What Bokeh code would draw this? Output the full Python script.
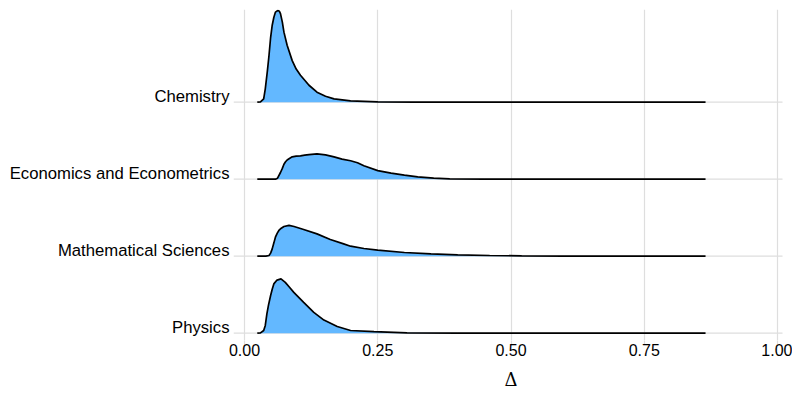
from bokeh.plotting import figure
from bokeh.models import FixedTicker, Range1d
from bokeh.embed import file_html
from bokeh.resources import INLINE

# ---- data ----
categories = ["Physics", "Mathematical Sciences", "Economics and Econometrics", "Chemistry"]

chem_x = [0.024, 0.030, 0.036, 0.039, 0.043, 0.046, 0.049, 0.052, 0.055, 0.058, 0.0625, 0.0655,
          0.0675, 0.071, 0.074, 0.080, 0.0895, 0.097, 0.105, 0.121, 0.136, 0.152, 0.168, 0.199,
          0.25, 0.32, 0.865]
chem_h = [0.0, 0.004, 0.043, 0.174, 0.41, 0.61, 0.84, 1.0, 1.10, 1.17, 1.19, 1.18,
          1.15, 1.04, 0.91, 0.74, 0.54, 0.43, 0.35, 0.22, 0.13, 0.078, 0.043, 0.017,
          0.005, 0.001, 0.0]

econ_x = [0.024, 0.058, 0.062, 0.0675, 0.071, 0.074, 0.077, 0.080, 0.085, 0.0895, 0.097, 0.105,
          0.113, 0.121, 0.136, 0.152, 0.168, 0.183, 0.199, 0.212, 0.224, 0.25, 0.275, 0.30,
          0.325, 0.355, 0.385, 0.45, 0.865]
econ_h = [0.0, 0.0, 0.013, 0.087, 0.14, 0.195, 0.227, 0.25, 0.273, 0.29, 0.30, 0.303,
          0.312, 0.32, 0.33, 0.316, 0.29, 0.26, 0.24, 0.214, 0.175, 0.112, 0.078, 0.052,
          0.03, 0.013, 0.004, 0.001, 0.0]

math_x = [0.024, 0.040, 0.046, 0.049, 0.052, 0.055, 0.058, 0.0615, 0.0645, 0.069, 0.074, 0.0835,
          0.093, 0.111, 0.136, 0.161, 0.186, 0.199, 0.224, 0.25, 0.30, 0.35, 0.40, 0.46,
          0.52, 0.60, 0.865]
math_h = [0.0, 0.001, 0.009, 0.04, 0.095, 0.17, 0.247, 0.30, 0.334, 0.364, 0.386, 0.40,
          0.386, 0.347, 0.29, 0.217, 0.16, 0.13, 0.10, 0.078, 0.048, 0.03, 0.017, 0.009,
          0.004, 0.001, 0.0]

phys_x = [0.024, 0.030, 0.036, 0.039, 0.042, 0.045, 0.049, 0.052, 0.055, 0.061, 0.0685, 0.0765,
          0.084, 0.0925, 0.111, 0.130, 0.149, 0.174, 0.199, 0.243, 0.305, 0.40, 0.865]
phys_h = [0.0, 0.004, 0.035, 0.10, 0.25, 0.364, 0.49, 0.57, 0.64, 0.69, 0.705, 0.66,
          0.60, 0.53, 0.40, 0.27, 0.17, 0.087, 0.035, 0.02, 0.005, 0.001, 0.0]

series_x = [phys_x, math_x, econ_x, chem_x]
series_h = [phys_h, math_h, econ_h, chem_h]

x_ticks = [0.0, 0.25, 0.5, 0.75, 1.0]
x_tick_labels = ["0.00", "0.25", "0.50", "0.75", "1.00"]
x_axis_title = "\u0394"

# ---- style ----
FILL = "#63B8FF"
GRID = "#dedede"
LABEL_OFFSET = 0.08
X0, X1 = -0.02064, 1.02064
BASE_END = 1.0094

p = figure(width=792, height=392, output_backend="svg", toolbar_location=None,
           x_range=Range1d(X0, X1), y_range=Range1d(0.905, 5.204),
           min_border_left=233, min_border_right=4, min_border_top=9, min_border_bottom=52)
p.outline_line_color = None
p.background_fill_color = "white"
p.border_fill_color = "white"

# grids
p.ygrid.visible = False
p.xgrid.ticker = FixedTicker(ticks=x_ticks)
p.xgrid.grid_line_color = GRID
p.xgrid.grid_line_width = 1.2

# baselines (category grid lines)
baselines = [i + 1 for i in range(len(categories))]
p.segment(x0=[X0] * len(baselines), y0=baselines, x1=[BASE_END] * len(baselines), y1=baselines,
          line_color=GRID, line_width=1.2)

# ridges, from top to bottom so lower ridges are in front
for i in reversed(range(len(categories))):
    b = baselines[i]
    xs = series_x[i]
    ys = [b + h for h in series_h[i]]
    p.patch(xs, ys, fill_color=FILL, line_color=None)
    p.line(xs, ys, line_color="black", line_width=1.7)

# x axis
p.xaxis.ticker = FixedTicker(ticks=x_ticks)
p.xaxis.major_label_overrides = {t: l for t, l in zip(x_ticks, x_tick_labels)}
p.xaxis.axis_line_color = None
p.xaxis.major_tick_line_color = GRID
p.xaxis.major_tick_line_width = 1.2
p.xaxis.major_tick_out = 4
p.xaxis.major_tick_in = 0
p.xaxis.minor_tick_line_color = None
p.xaxis.major_label_text_font = "Liberation Sans"
p.xaxis.major_label_text_font_size = "16px"
p.xaxis.major_label_text_color = "black"
p.xaxis.major_label_standoff = -1
p.xaxis.axis_label = x_axis_title
p.xaxis.axis_label_text_font = "DejaVu Serif"
p.xaxis.axis_label_text_font_style = "normal"
p.xaxis.axis_label_text_font_size = "18px"
p.xaxis.axis_label_text_color = "black"
p.xaxis.axis_label_standoff = 10

# y axis
y_ticks = [b + LABEL_OFFSET for b in baselines]
p.yaxis.ticker = FixedTicker(ticks=y_ticks)
p.yaxis.major_label_overrides = {t: c for t, c in zip(y_ticks, categories)}
p.yaxis.axis_line_color = None
p.yaxis.major_tick_line_color = None
p.yaxis.minor_tick_line_color = None
p.yaxis.major_tick_out = 0
p.yaxis.major_tick_in = 0
p.yaxis.major_label_standoff = 4
p.yaxis.major_label_text_font = "Liberation Sans"
p.yaxis.major_label_text_font_size = "16.7px"
p.yaxis.major_label_text_color = "black"

open("out.html", "w").write(file_html(p, INLINE))
